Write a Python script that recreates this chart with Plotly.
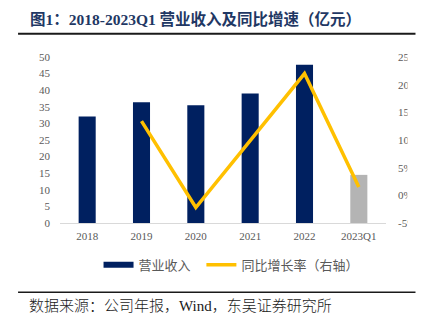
import plotly.graph_objects as go

categories = ["2018", "2019", "2020", "2021", "2022", "2023Q1"]
revenue = [32.1, 36.4, 35.5, 39.0, 47.7, 14.5]
growth = [None, 13.4, -2.2, 9.9, 22.0, 1.5]
left_ticks = [0, 5, 10, 15, 20, 25, 30, 35, 40, 45, 50]
right_ticks = [-5, 0, 5, 10, 15, 20, 25]
right_ticktext = ["-5%", "0%", "5%", "10%", "15%", "20%", "25%"]

title_text = "图1：2018-2023Q1 营业收入及同比增速（亿元）"
source_text = "数据来源：公司年报，Wind，东吴证券研究所"
bar_name = "营业收入"
line_name = "同比增长率（右轴）"

NAVY = "#002060"
GREY = "#B4B4B4"
YELLOW = "#FFC000"
TICK = "#595959"
SERIF = "Liberation Serif, Noto Sans CJK SC"
SANS = "Noto Sans CJK SC"

W, H = 430, 329
L, R, T, B = 60.4, 395.4, 57.3, 223.3


def px_x(px):
    return (px - L) / (R - L)


def px_y(py):
    return (B - py) / (B - T)


bar_colors = [NAVY] * (len(categories) - 1) + [GREY]

fig = go.Figure()
fig.add_trace(go.Bar(
    x=categories, y=revenue, marker=dict(color=bar_colors, line=dict(width=0)),
    showlegend=False, yaxis="y", hoverinfo="skip",
))
fig.add_trace(go.Scatter(
    x=[None], y=[None], mode="lines", name=bar_name,
    line=dict(color=NAVY, width=6), legend="legend",
))
fig.add_trace(go.Scatter(
    x=categories, y=growth, mode="lines", name=line_name, yaxis="y2",
    line=dict(color=YELLOW, width=3.5), connectgaps=False, legend="legend2",
))

legend_common = dict(
    orientation="h", yanchor="middle", xanchor="left", y=px_y(265),
    font=dict(family=SANS, size=13, color=TICK),
    bgcolor="rgba(0,0,0,0)", borderwidth=0,
)

fig.update_layout(
    width=W, height=H,
    margin=dict(l=L, r=W - R, t=T, b=H - B, pad=0),
    paper_bgcolor="white", plot_bgcolor="white",
    bargap=0.686,
    showlegend=True,
    legend=dict(x=px_x(100), **legend_common),
    legend2=dict(x=px_x(205.7), **legend_common),
    xaxis=dict(
        type="category", showgrid=False, zeroline=False, showline=True,
        linecolor="#D9D9D9", linewidth=1, ticks="",
        tickfont=dict(family=SERIF, size=11, color=TICK), ticklabelstandoff=3,
    ),
    yaxis=dict(
        range=[0, 50], tickvals=left_ticks, showgrid=False, zeroline=False,
        showline=False, ticks="", tickfont=dict(family=SERIF, size=11, color=TICK),
        ticklabelstandoff=9,
    ),
    yaxis2=dict(
        range=[-5, 25], tickvals=right_ticks, ticktext=right_ticktext,
        overlaying="y", side="right", showgrid=False, zeroline=False,
        showline=False, ticks="", tickfont=dict(family=SERIF, size=11, color=TICK),
        ticklabelstandoff=11,
    ),
    annotations=[
        dict(text="<b>" + title_text + "</b>", xref="paper", yref="paper",
             x=px_x(28), y=px_y(19.5), xanchor="left", yanchor="middle",
             showarrow=False, font=dict(family=SERIF, size=15.5, color="#1F3864")),
        dict(text=source_text, xref="paper", yref="paper",
             x=px_x(27), y=px_y(306), xanchor="left", yanchor="middle",
             showarrow=False,
             font=dict(family=SERIF, size=15, color="#1A1A1A", weight=300)),
    ],
    shapes=[
        dict(type="line", xref="paper", yref="paper", x0=px_x(17.3), x1=px_x(425.7),
             y0=px_y(34), y1=px_y(34), line=dict(color="#1A1A1A", width=2)),
        dict(type="line", xref="paper", yref="paper", x0=px_x(17.3), x1=px_x(425.7),
             y0=px_y(292.5), y1=px_y(292.5), line=dict(color="#1A1A1A", width=1.5)),
        dict(type="rect", xref="paper", yref="paper", x0=px_x(417.5), x1=px_x(432),
             y0=px_y(236), y1=px_y(45), fillcolor="white", line=dict(width=0),
             layer="above"),
    ],
)

fig.write_html("out.html")
